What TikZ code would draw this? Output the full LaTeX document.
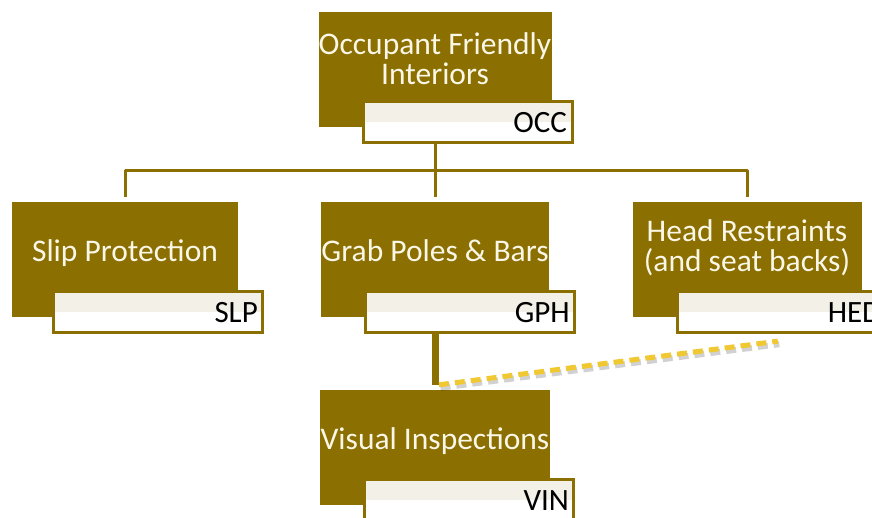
\documentclass[tikz,border=0pt]{standalone}
\usepackage{fontspec}
\setmainfont{Carlito}
\usetikzlibrary{calc}
\definecolor{olivegold}{RGB}{139,111,0}
\definecolor{tagbeige}{RGB}{243,241,231}
\definecolor{dashyellow}{RGB}{240,200,50}
\definecolor{boxtext}{RGB}{250,247,232}

\begin{document}
\begin{tikzpicture}[x=1pt, y=-1pt,
		unit/.style={fill=olivegold, draw=olivegold, minimum width=225pt, minimum height=114pt,
			inner sep=0pt, text=boxtext, align=center, text height=22pt, text depth=17pt,
			font=\fontsize{31.5}{30}\selectfont},
		twoline/.style={text height=49pt},
		tag/.style={draw=olivegold, line width=3pt, fill=white, minimum width=209pt,
			minimum height=41pt, inner sep=0pt, text width=199pt, align=right,
			text height=20pt, text depth=0pt, anchor=north west,
			font=\fontsize{31}{30}\selectfont,
			path picture={\fill[tagbeige] (path picture bounding box.north west)
				rectangle (path picture bounding box.east);}},
		link/.style={draw=olivegold, line width=3pt, line join=round},
		dashlink/.style={draw=dashyellow, line width=5pt, dash pattern=on 10pt off 6pt}]
		%%%%% START %%%%%
		\useasboundingbox (0,0) rectangle (872,518);
		
		% top
		\node[unit, twoline] (occ) at (435,69) {Occupant Friendly\\Interiors};
		\node[tag] (occ-id) at ($(occ.south west)+(43,-26)$) {OCC};
		
		% second row
		\node[unit] (slp) at (125,259) {Slip Protection};
		\node[tag] (slp-id) at ($(slp.south west)+(40,-26)$) {SLP};
		\node[unit] (gph) at (435,259) {Grab Poles \& Bars};
		\node[tag] (gph-id) at ($(gph.south west)+(43,-26)$) {GPH};
		\node[unit, twoline, text height=43pt, minimum width=228pt] (hed) at (747,259) {Head Restraints\\(and seat backs)};
		\node[tag] (hed-id) at ($(hed.south west)+(43,-26)$) {HED};
		
		% bottom
		\node[unit] (vin) at (435,447) {Visual Inspections};
		\node[tag] (vin-id) at ($(vin.south west)+(43,-26)$) {VIN};
		
		% tree lines
		\coordinate (bus) at ($(occ-id.south -| occ)!0.45!(gph.north)$);
		\draw[link] (occ-id.south -| occ) -- ([yshift=5pt]gph.north);
		\draw[link] ([yshift=5pt]slp.north) -- (slp.north |- bus) -- (hed.north |- bus) -- ([yshift=5pt]hed.north);
		\draw[link, line width=7pt] (gph-id.south -| gph) -- ([yshift=5pt]vin.north);
		
		\coordinate (hed-end) at ($(hed-id.south west)+(102,7)$);
		\draw[dashlink, draw=black, opacity=0.18, line width=6pt] ([xshift=5.5pt,yshift=2pt]vin.north) -- ([xshift=1.5pt,yshift=-3pt]hed-end);
		\draw[dashlink] ([xshift=4pt,yshift=5pt]vin.north) -- (hed-end);
		%%%%% END %%%%%
	\end{tikzpicture}
\end{document}
